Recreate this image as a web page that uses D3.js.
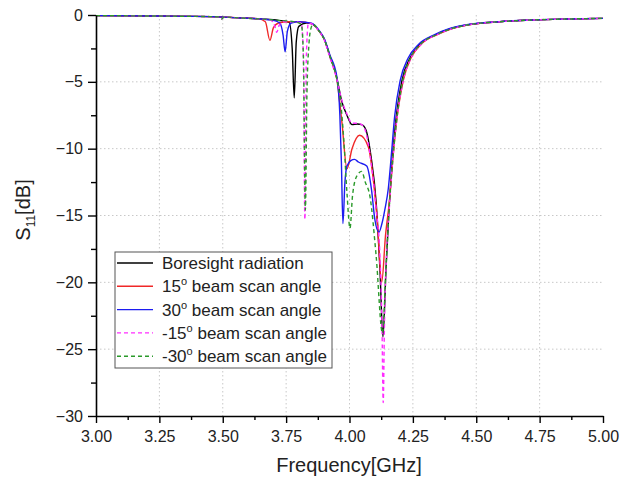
<html>
<head>
<meta charset="utf-8">
<script src="https://d3js.org/d3.v7.min.js"></script>
<style>
body { margin: 0; background: white; }
svg text { font-family: "Liberation Sans", Arial, sans-serif; }
.grid line { stroke: #c8c8c8; stroke-dasharray: 1.5,2.5; }
</style>
</head>
<body>
<svg id="chart" width="621" height="483"></svg>
<script>
// S11 curves: [frequency GHz, S11 dB]
var boresight = [[3.00,-0.05],[3.25,-0.08],[3.45,-0.12],[3.55,-0.2],[3.65,-0.3],[3.72,-0.4],[3.762,-0.55],[3.774,-2.5],[3.782,-6.2],[3.79,-2.0],[3.80,-0.85],[3.83,-0.6],[3.85,-0.65],[3.88,-1.2],[3.90,-1.8],[3.923,-3.1],[3.95,-4.7],[3.97,-6.5],[3.99,-7.5],[4.01,-8.2],[4.03,-8.15],[4.048,-8.2],[4.065,-8.6],[4.085,-10.6],[4.105,-14.0],[4.12,-19.0],[4.132,-24.1],[4.144,-19.0],[4.156,-14.5],[4.168,-11.0],[4.18,-8.4],[4.207,-4.9],[4.239,-3.2],[4.278,-2.2],[4.344,-1.45],[4.396,-1.05],[4.462,-0.75],[4.594,-0.5],[4.724,-0.37],[4.857,-0.3],[5.00,-0.25]];
var scan15 = [[3.00,-0.05],[3.25,-0.08],[3.45,-0.12],[3.55,-0.2],[3.64,-0.28],[3.668,-0.5],[3.686,-1.9],[3.70,-0.95],[3.72,-0.6],[3.76,-0.5],[3.80,-0.5],[3.85,-0.65],[3.88,-1.2],[3.90,-1.8],[3.923,-3.1],[3.95,-4.8],[3.97,-8.0],[3.99,-11.5],[4.01,-10.0],[4.04,-9.0],[4.074,-9.85],[4.095,-12.5],[4.11,-15.5],[4.127,-20.0],[4.142,-16.5],[4.158,-13.8],[4.17,-11.0],[4.183,-8.4],[4.212,-4.9],[4.243,-3.2],[4.282,-2.2],[4.348,-1.45],[4.40,-1.05],[4.465,-0.75],[4.594,-0.5],[4.724,-0.37],[4.857,-0.3],[5.00,-0.25]];
var scan30 = [[3.00,-0.05],[3.25,-0.08],[3.45,-0.12],[3.55,-0.2],[3.65,-0.3],[3.70,-0.4],[3.725,-0.6],[3.738,-1.5],[3.746,-2.75],[3.755,-1.2],[3.77,-0.6],[3.80,-0.5],[3.85,-0.62],[3.88,-1.15],[3.90,-1.75],[3.923,-3.0],[3.95,-4.6],[3.962,-7.5],[3.968,-11.0],[3.974,-15.6],[3.982,-12.5],[3.99,-11.3],[4.005,-10.9],[4.02,-10.8],[4.035,-11.0],[4.068,-11.3],[4.087,-13.1],[4.10,-15.3],[4.116,-16.25],[4.128,-15.6],[4.14,-14.5],[4.153,-13.0],[4.165,-10.5],[4.178,-7.6],[4.20,-4.9],[4.232,-3.2],[4.272,-2.2],[4.338,-1.45],[4.39,-1.05],[4.456,-0.75],[4.59,-0.5],[4.72,-0.37],[4.857,-0.3],[5.00,-0.25]];
var scanM15 = [[3.00,-0.05],[3.25,-0.08],[3.45,-0.12],[3.485,-0.14],[3.495,-0.3],[3.505,-0.15],[3.55,-0.2],[3.65,-0.3],[3.69,-0.4],[3.705,-0.8],[3.713,-1.3],[3.722,-0.8],[3.74,-0.5],[3.78,-0.5],[3.81,-0.6],[3.818,-3.0],[3.824,-15.3],[3.83,-3.0],[3.838,-0.6],[3.85,-0.65],[3.88,-1.2],[3.90,-1.85],[3.923,-3.2],[3.95,-4.8],[3.97,-6.4],[3.99,-7.4],[4.01,-8.1],[4.03,-8.1],[4.048,-8.2],[4.065,-8.8],[4.085,-11.0],[4.105,-14.5],[4.12,-18.0],[4.128,-23.0],[4.133,-29.0],[4.138,-23.0],[4.146,-18.0],[4.158,-14.2],[4.17,-11.0],[4.183,-8.4],[4.212,-4.9],[4.243,-3.2],[4.282,-2.2],[4.348,-1.45],[4.40,-1.05],[4.465,-0.75],[4.594,-0.5],[4.724,-0.37],[4.857,-0.3],[5.00,-0.25]];
var scanM30 = [[3.00,-0.05],[3.25,-0.08],[3.45,-0.12],[3.485,-0.14],[3.495,-0.3],[3.505,-0.15],[3.55,-0.2],[3.65,-0.3],[3.72,-0.4],[3.78,-0.5],[3.81,-0.7],[3.818,-3.0],[3.826,-14.6],[3.832,-6.0],[3.84,-2.2],[3.848,-1.0],[3.856,-0.7],[3.88,-1.2],[3.90,-1.8],[3.923,-3.1],[3.95,-4.8],[3.965,-6.5],[3.978,-9.5],[3.99,-13.3],[4.002,-15.95],[4.012,-13.5],[4.03,-12.0],[4.048,-11.7],[4.062,-12.5],[4.081,-13.6],[4.105,-18.0],[4.13,-23.8],[4.145,-18.5],[4.158,-14.0],[4.17,-11.0],[4.183,-8.4],[4.21,-4.9],[4.241,-3.2],[4.28,-2.2],[4.346,-1.45],[4.398,-1.05],[4.463,-0.75],[4.594,-0.5],[4.724,-0.37],[4.857,-0.3],[5.00,-0.25]];

var seriesData = [boresight, scan15, scan30, scanM15, scanM30];
var seriesAngles = [null, "15", "30", "-15", "-30"];
var seriesColors = ["#000000", "#f02828", "#1c1cf0", "#ff2cff", "#2a9a2a"];
var seriesDashed = [false, false, false, true, true];

var xMajor = [3.00, 3.25, 3.50, 3.75, 4.00, 4.25, 4.50, 4.75, 5.00];
var xMinor = [3.125, 3.375, 3.625, 3.875, 4.125, 4.375, 4.625, 4.875];
var yMajor = [0, -5, -10, -15, -20, -25, -30];
var yMinor = [-2.5, -7.5, -12.5, -17.5, -22.5, -27.5];

var svg = d3.select("#chart");
var x = d3.scaleLinear().domain([3, 5]).range([96, 603]);
var y = d3.scaleLinear().domain([-30, 0]).range([416, 15]);

// grid
var grid = svg.append("g").attr("class", "grid");
grid.selectAll(".gx").data(xMajor.slice(1, -1)).enter().append("line")
  .attr("x1", d => x(d)).attr("x2", d => x(d))
  .attr("y1", y(0)).attr("y2", y(-30));
grid.selectAll(".gy").data(yMajor.slice(1, -1)).enter().append("line")
  .attr("x1", x(3)).attr("x2", x(5))
  .attr("y1", d => y(d)).attr("y2", d => y(d));

// curves
var line = d3.line().x(d => x(d[0])).y(d => y(d[1])).curve(d3.curveMonotoneX);
seriesData.forEach(function(s, i) {
  svg.append("path")
    .datum(s)
    .attr("d", line)
    .attr("fill", "none")
    .attr("stroke", seriesColors[i])
    .attr("stroke-width", 1.4)
    .attr("stroke-dasharray", seriesDashed[i] ? "4,3" : null);
});

// axes
var fmt = d3.format(".2f");
svg.append("g").attr("transform", "translate(0,416)")
  .call(d3.axisBottom(x).tickValues(xMinor).tickSize(4).tickFormat(""))
  .call(g => g.select(".domain").remove());
var xa = svg.append("g").attr("transform", "translate(0,416)")
  .call(d3.axisBottom(x).tickValues(xMajor).tickSize(7).tickSizeOuter(0).tickFormat(fmt));
xa.selectAll("text").attr("y", 15).style("font-size", "16px").attr("fill", "#222");

svg.append("g").attr("transform", "translate(96,0)")
  .call(d3.axisLeft(y).tickValues(yMinor).tickSize(5).tickFormat(""))
  .call(g => g.select(".domain").remove());
var ya = svg.append("g").attr("transform", "translate(96,0)")
  .call(d3.axisLeft(y).tickValues(yMajor).tickSize(8).tickSizeOuter(0));
ya.selectAll("text").attr("x", -13).style("font-size", "16px").attr("fill", "#222");

svg.selectAll(".domain").attr("stroke-width", 1.6);
svg.selectAll(".tick line").attr("stroke-width", 1.4);

// axis titles
svg.append("text")
  .attr("x", 349).attr("y", 472)
  .attr("text-anchor", "middle")
  .style("font-size", "20px").attr("fill", "#222")
  .text("Frequency[GHz]");

var yt = svg.append("text")
  .attr("transform", "translate(30,210) rotate(-90)")
  .attr("text-anchor", "middle")
  .style("font-size", "20px").attr("fill", "#222");
yt.append("tspan").text("S");
yt.append("tspan").attr("dy", 5).style("font-size", "12px").text("11");
yt.append("tspan").attr("dy", -5).text("[dB]");

// legend
var lg = svg.append("g");
lg.append("rect")
  .attr("x", 115).attr("y", 252).attr("width", 217).attr("height", 116)
  .attr("fill", "white").attr("stroke", "#555").attr("stroke-width", 1);
seriesData.forEach(function(s, i) {
  var ly = 263 + i * 23.3;
  lg.append("line")
    .attr("x1", 117).attr("x2", 153).attr("y1", ly).attr("y2", ly)
    .attr("stroke", seriesColors[i]).attr("stroke-width", 1.4)
    .attr("stroke-dasharray", seriesDashed[i] ? "4,3" : null);
  var t = lg.append("text").attr("x", 162).attr("y", ly + 6)
    .style("font-size", "17px").attr("fill", "#222");
  if (seriesAngles[i] === null) {
    t.text("Boresight radiation");
  } else {
    t.append("tspan").text(seriesAngles[i]);
    t.append("tspan").attr("dy", -7).style("font-size", "11px").text("o");
    t.append("tspan").attr("dy", 7).text(" beam scan angle");
  }
});
</script>
</body>
</html>
